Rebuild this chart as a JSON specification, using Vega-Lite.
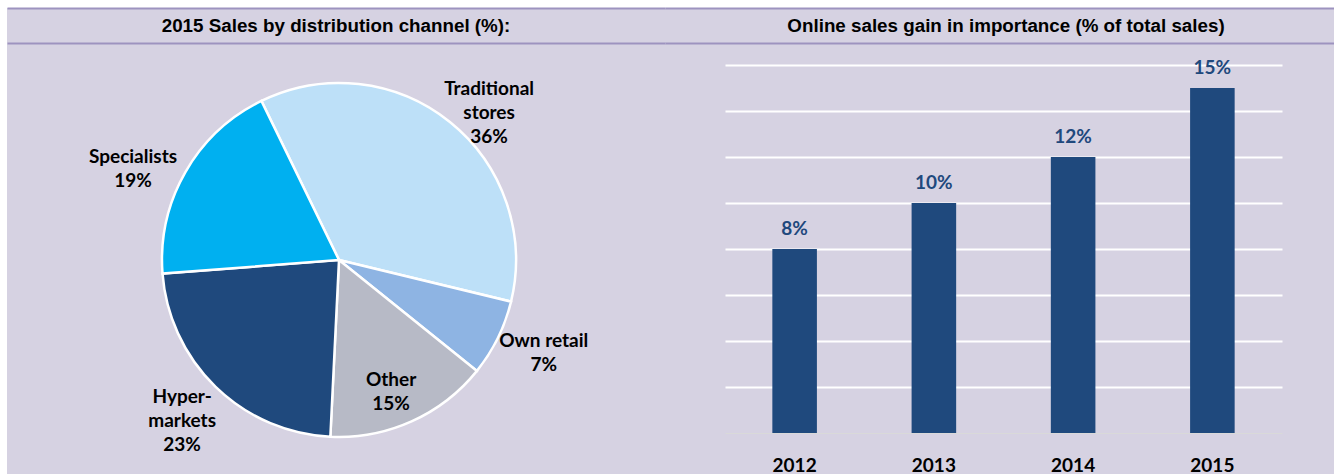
{
  "$schema": "https://vega.github.io/schema/vega-lite/v6.json",
  "background": "#d6d2e2",
  "padding": 0,
  "config": {"view": {"stroke": null}},
  "spacing": 0,
  "hconcat": [
    {
      "width": 7, "height": 474,
      "data": {"values": [{}]},
      "mark": {"type": "rect", "color": "white"},
      "encoding": {}
    },
    {
      "spacing": 0,
      "vconcat": [
        {
          "width": 1327, "height": 8,
          "data": {"values": [{}]},
          "mark": {"type": "rect", "color": "white"},
          "encoding": {}
        },
        {
          "spacing": 0,
          "hconcat": [
            {
              "width": 658, "height": 35,
              "data": {"values": [{"title": "2015 Sales by distribution channel (%):"}]},
              "mark": {"type": "text", "font": "Liberation Sans", "fontWeight": "bold", "fontSize": 18.8, "color": "black", "baseline": "middle"},
              "encoding": {
                "text": {"field": "title"},
                "y": {"datum": 0.5, "type": "quantitative", "scale": {"domain": [0, 1]},
                      "axis": {"values": [0, 1], "grid": true, "gridColor": "#9d93bf", "gridWidth": 2, "labels": false, "ticks": false, "domain": false, "title": null}}
              }
            },
            {
              "width": 682, "height": 35,
              "data": {"values": [{"title": "Online sales gain in importance (% of total sales)"}]},
              "mark": {"type": "text", "font": "Liberation Sans", "fontWeight": "bold", "fontSize": 18.8, "color": "black", "baseline": "middle"},
              "encoding": {
                "text": {"field": "title"},
                "y": {"datum": 0.5, "type": "quantitative", "scale": {"domain": [0, 1]},
                      "axis": {"values": [0, 1], "grid": true, "gridColor": "#9d93bf", "gridWidth": 2, "labels": false, "ticks": false, "domain": false, "title": null}}
              }
            }
          ]
        },
        {
          "spacing": 54,
          "hconcat": [
            {
              "width": 664, "height": 434,
              "data": {"values": [
                {"channel": "Traditional stores", "label": "Traditional\nstores\n36%", "share": 36, "rank": 1},
                {"channel": "Own retail", "label": "Own retail\n7%", "share": 7, "rank": 2},
                {"channel": "Other", "label": "Other\n15%", "share": 15, "rank": 3},
                {"channel": "Hypermarkets", "label": "Hyper-\nmarkets\n23%", "share": 23, "rank": 4},
                {"channel": "Specialists", "label": "Specialists\n19%", "share": 19, "rank": 5}
              ]},
              "encoding": {
                "theta": {"field": "share", "type": "quantitative", "stack": true, "scale": {"range": [-0.4538, 5.8294]}},
                "order": {"field": "rank", "type": "quantitative"}
              },
              "layer": [
                {
                  "mark": {"type": "arc", "outerRadius": 177, "stroke": "white", "strokeWidth": 2.5},
                  "encoding": {
                    "color": {"field": "channel", "type": "nominal", "legend": null,
                      "scale": {"domain": ["Traditional stores", "Own retail", "Other", "Hypermarkets", "Specialists"],
                                "range": ["#bde0f8", "#8eb4e3", "#b7bac6", "#1f497d", "#00b0f0"]}}
                  }
                },
                {
                  "mark": {"type": "text", "font": "Lato", "fontWeight": "bold", "fontSize": 19, "color": "black",
                           "lineBreak": "\n", "lineHeight": 24, "align": "center", "baseline": "middle",
                           "dy": {"expr": "datum.channel === 'Traditional stores' || datum.channel === 'Hypermarkets' ? -24 : -12"},
                           "radius": {"expr": "datum.channel === 'Other' ? 142 : datum.channel === 'Traditional stores' ? 210 : 225"},
                           "thetaOffset": {"expr": "datum.channel === 'Traditional stores' ? 0.119 : datum.channel === 'Specialists' ? -0.106 : datum.channel === 'Own retail' ? -0.03 : datum.channel === 'Other' ? 0.047 : 0"}},
                  "encoding": {"text": {"field": "label"}}
                }
              ]
            },
            {
              "width": 557, "height": 390,
              "data": {"values": [
                {"year": "2012", "share": 8, "label": "8%"},
                {"year": "2013", "share": 10, "label": "10%"},
                {"year": "2014", "share": 12, "label": "12%"},
                {"year": "2015", "share": 15, "label": "15%"}
              ]},
              "encoding": {
                "x": {"field": "year", "type": "ordinal", "scale": {"paddingInner": 0.68, "paddingOuter": 0.34},
                      "axis": {"title": null, "ticks": false, "domainColor": "#d9d9d9", "domainWidth": 1,
                               "labelFont": "Lato", "labelFontWeight": "bold", "labelFontSize": 19, "labelColor": "black",
                               "labelPadding": 38, "labelBaseline": "alphabetic", "labelAngle": 0}},
                "y": {"field": "share", "type": "quantitative", "scale": {"domain": [0, 16.957], "nice": false},
                      "axis": {"values": [2, 4, 6, 8, 10, 12, 14, 16], "grid": true, "gridColor": "white", "gridWidth": 2,
                               "labels": false, "ticks": false, "domain": false, "title": null}}
              },
              "layer": [
                {"mark": {"type": "bar", "color": "#1f497d"}},
                {"mark": {"type": "text", "baseline": "alphabetic", "dy": -14, "font": "Lato", "fontWeight": "bold", "fontSize": 19, "color": "#1f497d"},
                 "encoding": {"text": {"field": "label"}}}
              ]
            }
          ]
        }
      ]
    }
  ]
}
